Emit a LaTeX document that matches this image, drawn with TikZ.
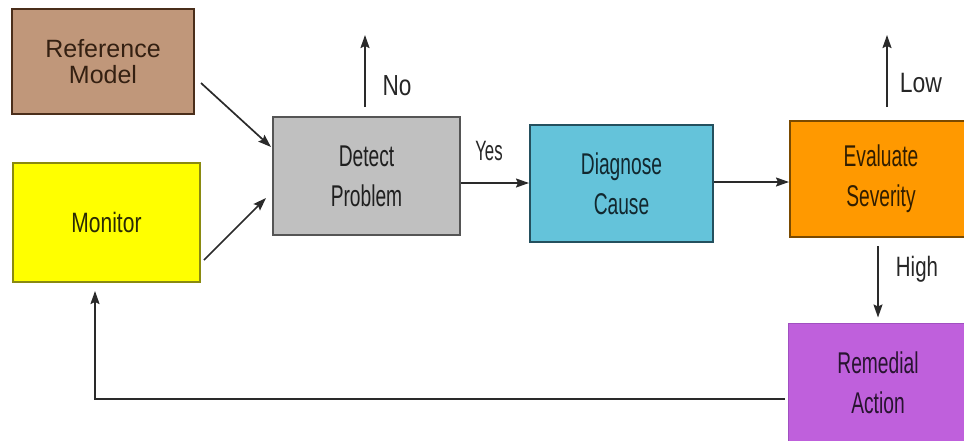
\documentclass[tikz,border=0pt]{standalone}
\usepackage{fontspec}
\setmainfont{Liberation Sans}
\usetikzlibrary{arrows.meta,calc}
\definecolor{refF}{HTML}{C0977A}
\definecolor{refD}{HTML}{4A2E1A}
\definecolor{monF}{HTML}{FFFF00}
\definecolor{monD}{HTML}{8A8A10}
\definecolor{detF}{HTML}{C0C0C0}
\definecolor{detD}{HTML}{555555}
\definecolor{diaF}{HTML}{64C3DA}
\definecolor{diaD}{HTML}{24505E}
\definecolor{evaF}{HTML}{FF9900}
\definecolor{evaD}{HTML}{7A4A00}
\definecolor{remF}{HTML}{BF60DC}
\definecolor{remD}{HTML}{A050C0}
\definecolor{lineC}{HTML}{2A2A2A}
\tikzset{
  box/.style={draw, line width=2pt, rectangle, inner sep=0pt, align=center},
  narrowtxt/.style={font=\fontsize{30}{40}\selectfont\addfontfeature{FakeStretch=0.64}},
  conn/.style={draw=lineC, line width=1.7pt, -{Stealth[length=13pt,width=9pt,inset=2pt]}},
  lbl/.style={text=black!85, inner sep=0pt}
}
\begin{document}
\begin{tikzpicture}[x=1pt,y=-1pt]
\useasboundingbox (0,0) rectangle (964,440);
\node[box, fill=refF, draw=refD, text=refD!70!black, minimum width=182pt, minimum height=105pt,
      font=\fontsize{25}{26}\selectfont] (ref) at (103,61.5) {Reference\\Model};
\node[box, fill=monF, draw=monD, text=monD!30!black, minimum width=187pt, minimum height=119pt,
      font=\fontsize{28}{34}\selectfont\addfontfeature{FakeStretch=0.75}] (mon) at (106.5,222.5) {Monitor};
\node[box, fill=detF, draw=detD, text=black!88, minimum width=187pt, minimum height=118pt, narrowtxt] (det) at (366.5,176) {Detect\\Problem};
\node[box, fill=diaF, draw=diaD, text=diaD!50!black, minimum width=183pt, minimum height=117pt, narrowtxt] (dia) at (621.5,183.5) {Diagnose\\Cause};
\node[box, fill=evaF, draw=evaD, text=evaD!40!black, minimum width=182pt, minimum height=116pt, narrowtxt] (eva) at (881,179) {Evaluate\\Severity};
\node[box, fill=remF, draw=remD, line width=1pt, text=remD!25!black, minimum width=180pt, minimum height=120pt, narrowtxt] (rem) at (878,383) {Remedial\\Action};
\coordinate (no) at (365,35);
\coordinate (low) at (887,35);
\node[lbl, font=\fontsize{29}{30}\selectfont\addfontfeature{FakeStretch=0.78}] (nolbl) at (397,86) {No};
\node[lbl, font=\fontsize{28}{30}\selectfont\addfontfeature{FakeStretch=0.6}] (yeslbl) at (489,151) {Yes};
\node[lbl, font=\fontsize{28}{30}\selectfont\addfontfeature{FakeStretch=0.82}] (lowlbl) at (921,83) {Low};
\node[lbl, font=\fontsize{28}{30}\selectfont\addfontfeature{FakeStretch=0.73}] (highlbl) at (917,269) {High};
\path[conn] ([xshift=6pt,yshift=-21.5pt]ref.east) -- ([xshift=-1pt,yshift=29pt]det.west);
\path[conn] ([xshift=3pt,yshift=-37.5pt]mon.east) -- ([xshift=-6pt,yshift=-22pt]det.west);
\path[conn] ([xshift=-1.5pt,yshift=9pt]det.north) -- (no);
\path[conn] ([yshift=-7pt]det.east) -- ([yshift=0.5pt]dia.west);
\path[conn] ([yshift=1.5pt]dia.east) -- ([yshift=1.5pt]dia.east -| eva.west);
\path[conn] ([xshift=6pt,yshift=13pt]eva.north) -- (low);
\path[conn] ([xshift=-3pt,yshift=-8pt]eva.south) -- ([yshift=5pt]rem.north);
\path[conn] ([xshift=-3pt,yshift=-16pt]rem.west) -| ([xshift=-11.5pt,yshift=-8pt]mon.south);
\end{tikzpicture}
\end{document}
